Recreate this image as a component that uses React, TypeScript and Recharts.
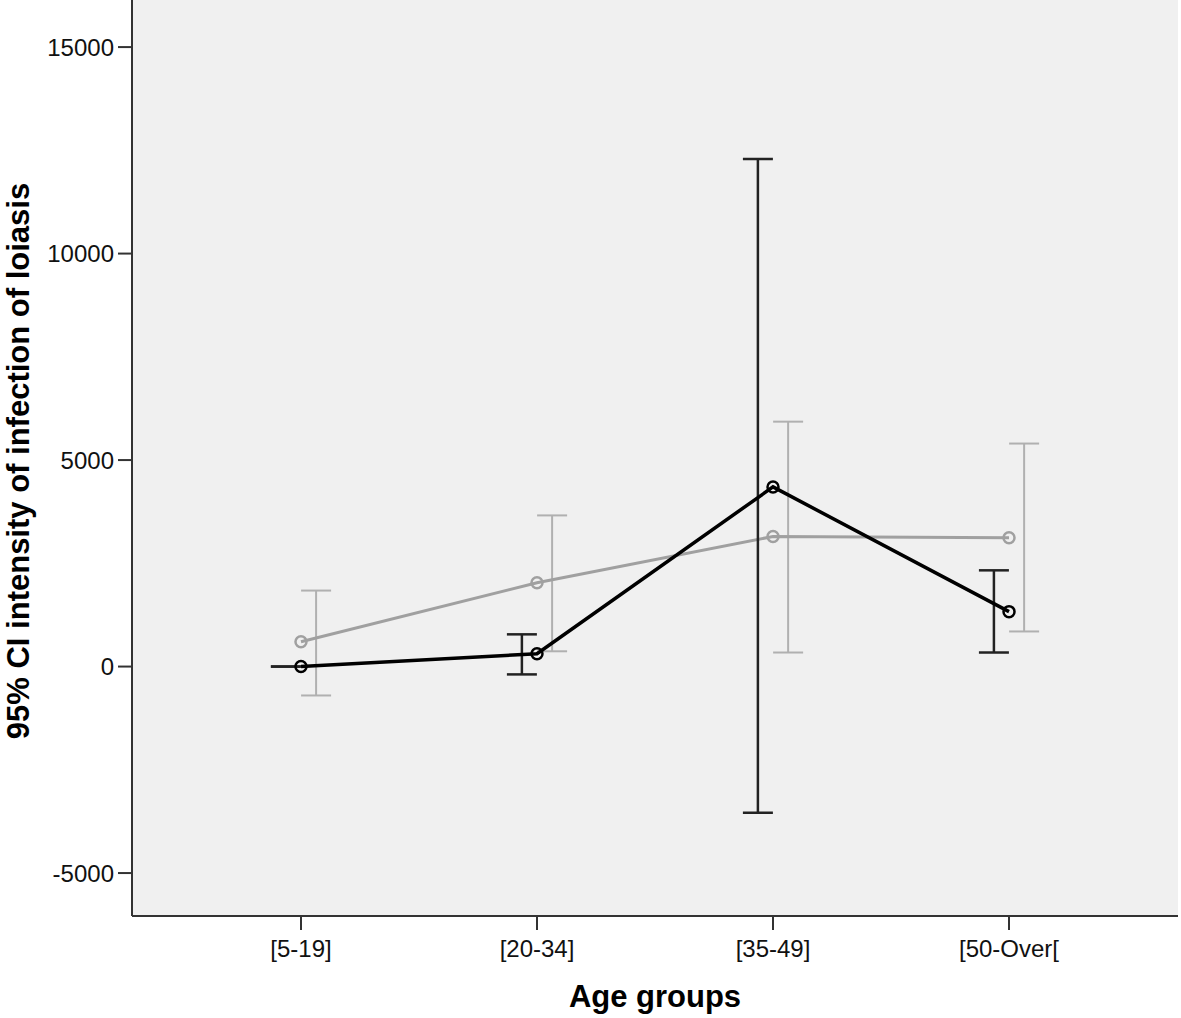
import {
  ComposedChart,
  Line,
  Scatter,
  ErrorBar,
  XAxis,
  YAxis,
  CartesianGrid,
  Label,
} from "recharts";

const AGE_GROUPS = ["[5-19]", "[20-34]", "[35-49]", "[50-Over["];

// dark series (mean + 95% CI)
const DARK_MEAN = [0, 310, 4350, 1330];
const DARK_LOW = [0, -190, -3540, 340];
const DARK_HIGH = [0, 780, 12290, 2330];

// light series (mean + 95% CI)
const LIGHT_MEAN = [600, 2030, 3150, 3120];
const LIGHT_LOW = [-700, 370, 340, 850];
const LIGHT_HIGH = [1840, 3660, 5930, 5400];

const Y_TICKS = [-5000, 0, 5000, 10000, 15000];

const FONT = "'Liberation Sans', Arial, sans-serif";
const SHIFT = 0.064; // error bars sit a little beside each point

const toLine = (mean: number[]) => mean.map((y, i) => ({ x: i, y }));

const toErr = (mean: number[], low: number[], high: number[], dx: number) =>
  mean.map((y, i) => ({ x: i + dx, y, err: [y - low[i], high[i] - y] }));

const darkLine = toLine(DARK_MEAN);
const lightLine = toLine(LIGHT_MEAN);
const darkErr = toErr(DARK_MEAN, DARK_LOW, DARK_HIGH, -SHIFT);
const lightErr = toErr(LIGHT_MEAN, LIGHT_LOW, LIGHT_HIGH, SHIFT);

const noShape = () => <g />;

const YTitle = ({ viewBox }: any) => {
  const cy = viewBox.y + viewBox.height / 2 + 3;
  return (
    <text
      x={29}
      y={cy}
      transform={`rotate(-90, 29, ${cy})`}
      textAnchor="middle"
      fontFamily={FONT}
      fontWeight="bold"
      fontSize={31}
      fill="#000"
    >
      95% CI intensity of infection of loiasis
    </text>
  );
};

const App = () => {
  const tick = { fontSize: 24, fill: "#111", fontFamily: FONT };
  return (
    <div style={{ position: "absolute", left: 0, top: 0, background: "#fff" }}>
      <ComposedChart
        width={1181}
        height={1018}
        margin={{ top: 0, right: 3, bottom: 0, left: 0 }}
      >
        <CartesianGrid fill="#f0f0f0" horizontal={false} vertical={false} />
        <XAxis
          type="number"
          dataKey="x"
          domain={[-0.716, 3.716]}
          ticks={[0, 1, 2, 3]}
          allowDataOverflow
          tickFormatter={(i: number) => AGE_GROUPS[i] ?? ""}
          height={102}
          tickSize={14}
          tickMargin={10}
          tick={tick}
          axisLine={{ stroke: "#333", strokeWidth: 2 }}
          tickLine={{ stroke: "#333", strokeWidth: 2 }}
        >
          <Label
            value="Age groups"
            position="insideBottom"
            offset={11}
            style={{ fontFamily: FONT, fontWeight: "bold", fontSize: 31, fill: "#000" }}
          />
        </XAxis>
        <YAxis
          type="number"
          domain={[-6040, 16140]}
          ticks={Y_TICKS}
          allowDataOverflow
          width={132}
          tickSize={14}
          tickMargin={4}
          tick={tick}
          axisLine={{ stroke: "#333", strokeWidth: 2 }}
          tickLine={{ stroke: "#333", strokeWidth: 2 }}
        >
          <Label content={YTitle} />
        </YAxis>

        <Scatter
          data={lightErr}
          dataKey="y"
          shape={noShape}
          isAnimationActive={false}
          legendType="none"
        >
          <ErrorBar
            dataKey="err"
            direction="y"
            width={15}
            stroke="#b0b0b0"
            strokeWidth={2}
            isAnimationActive={false}
          />
        </Scatter>
        <Line
          data={lightLine}
          dataKey="y"
          stroke="#a0a0a0"
          strokeWidth={3}
          dot={{ r: 5.5, stroke: "#a0a0a0", strokeWidth: 2.5, fill: "none" }}
          activeDot={false}
          isAnimationActive={false}
          legendType="none"
        />
        <Scatter
          data={darkErr}
          dataKey="y"
          shape={noShape}
          isAnimationActive={false}
          legendType="none"
        >
          <ErrorBar
            dataKey="err"
            direction="y"
            width={15}
            stroke="#222"
            strokeWidth={2.5}
            isAnimationActive={false}
          />
        </Scatter>
        <Line
          data={darkLine}
          dataKey="y"
          stroke="#000"
          strokeWidth={3.5}
          dot={{ r: 5.5, stroke: "#000", strokeWidth: 2.5, fill: "none" }}
          activeDot={false}
          isAnimationActive={false}
          legendType="none"
        />
      </ComposedChart>
    </div>
  );
};

export default App;
